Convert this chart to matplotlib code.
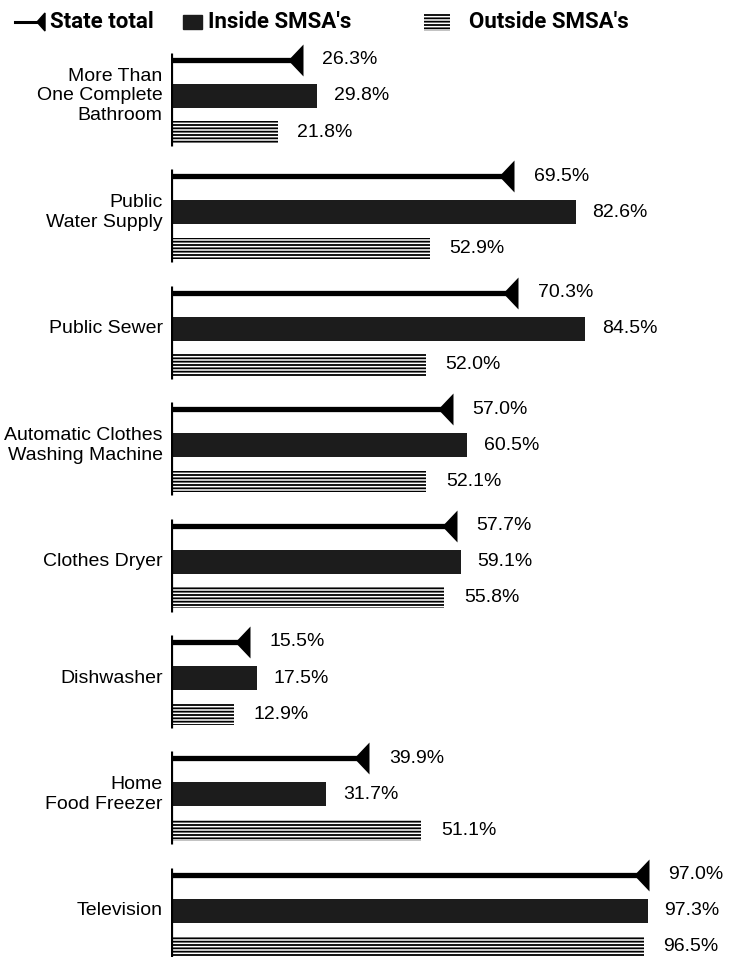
import numpy as np
import matplotlib
matplotlib.use("Agg")
import matplotlib.pyplot as plt
from matplotlib.path import Path
from matplotlib.patches import Rectangle, Polygon

# data
categories = ["More Than\nOne Complete\nBathroom", "Public\nWater Supply", "Public Sewer",
              "Automatic Clothes\nWashing Machine", "Clothes Dryer", "Dishwasher",
              "Home\nFood Freezer", "Television"]
state_total = [26.3, 69.5, 70.3, 57.0, 57.7, 15.5, 39.9, 97.0]
inside_smsa = [29.8, 82.6, 84.5, 60.5, 59.1, 17.5, 31.7, 97.3]
outside_smsa = [21.8, 52.9, 52.0, 52.1, 55.8, 12.9, 51.1, 96.5]
legend_labels = ["State total", "Inside SMSA's", "Outside SMSA's"]

plt.rcParams['hatch.linewidth'] = 1.3
W, H, DPI = 729, 957, 100
fig = plt.figure(figsize=(W / DPI, H / DPI), dpi=DPI)

x0 = 171          # pixel of zero
pxper = 4.9       # pixels per percent
gap = 116.4       # pixels between groups
first = 96        # pixel of first group centre
ax = fig.add_axes([x0 / W, 0, 1 - x0 / W, 1])
ax.set_xlim(0, (W - x0) / pxper)
ax.set_ylim((H - first) / gap, -first / gap)
ax.axis('off')

# flag marker: left-pointing triangle, flat side on the value
flag = Path([(-0.95, 0), (0, 1), (0, -1), (-0.95, 0)],
            [Path.MOVETO, Path.LINETO, Path.LINETO, Path.CLOSEPOLY])

pos = np.arange(len(categories))
lab_font = dict(family=['Liberation Sans', 'DejaVu Sans'], size=14)

for i in pos:
    ys, yi, yo = i - 0.31, i, i + 0.31
    ax.vlines(0, i - 0.37, i + 0.43, color='black', lw=2.3, zorder=5)
    ax.plot([0, state_total[i]], [ys, ys], color='black', lw=3.8, solid_capstyle='butt')
    ax.plot(state_total[i] + 0.6, ys, marker=flag, markersize=23, color='black', mew=0)
    ax.barh(yi, inside_smsa[i], height=0.206, left=0, color='#1c1c1c', lw=0)
    ax.barh(yo, outside_smsa[i], height=0.185, left=0, facecolor='white',
            edgecolor='black', hatch='-----', lw=0)
    ax.annotate(f"{state_total[i]:.1f}%", (state_total[i], ys), xytext=(16, 0),
                textcoords='offset points', va='center', ha='left', **lab_font)
    ax.annotate(f"{inside_smsa[i]:.1f}%", (inside_smsa[i], yi), xytext=(12, 0),
                textcoords='offset points', va='center', ha='left', **lab_font)
    ax.annotate(f"{outside_smsa[i]:.1f}%", (outside_smsa[i], yo), xytext=(14, 0),
                textcoords='offset points', va='center', ha='left', **lab_font)
    ax.annotate(categories[i], (0, yi), xytext=(-6, 0), textcoords='offset points',
                va='center', ha='right', multialignment='right', linespacing=1.2,
                annotation_clip=False, **lab_font)

# legend strip, in pixel units
lg = fig.add_axes([0, 1 - 48 / H, 1, 48 / H])
lg.set_xlim(0, W)
lg.set_ylim(48, 0)
lg.axis('off')
leg_font = dict(family=['Roboto', 'DejaVu Sans'],
                size=16, weight='bold', va='center', ha='left')
lg.plot([15, 38], [22, 22], color='black', lw=2.2)
lg.add_patch(Polygon([(37, 22), (45, 13), (45, 31)], closed=True, color='black'))
lg.text(50, 22, legend_labels[0], **leg_font)
lg.add_patch(Rectangle((183, 15), 19, 14, color='#1c1c1c'))
lg.text(208, 22, legend_labels[1], **leg_font)
lg.add_patch(Rectangle((424, 13), 26, 18, facecolor='white', edgecolor='black',
                       hatch='-----', lw=0))
lg.text(469, 22, legend_labels[2], **leg_font)

fig.savefig("out.png", dpi=DPI)
